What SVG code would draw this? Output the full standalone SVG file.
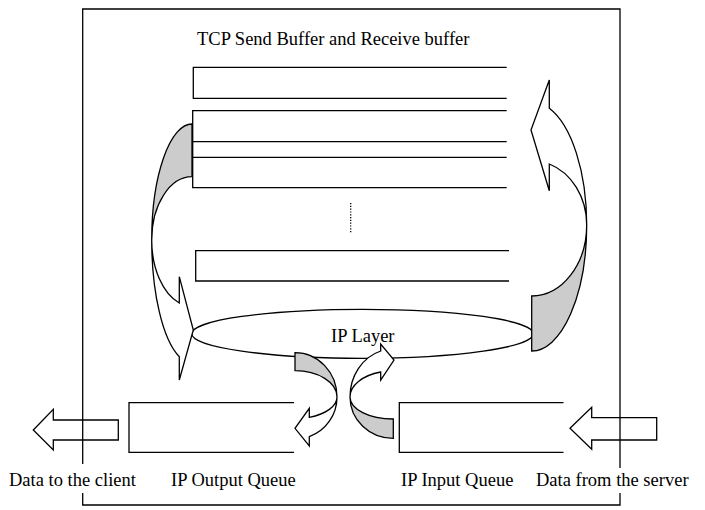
<svg xmlns="http://www.w3.org/2000/svg" width="705" height="510" viewBox="0 0 705 510">
<style>
.ln{fill:none;stroke:#000;stroke-width:1.3}
.wh{fill:#fff;stroke:#000;stroke-width:1.3;stroke-linejoin:miter}
.gr{fill:#cccccc;stroke:#000;stroke-width:1.3}
.t{font-family:"Liberation Serif","Times New Roman",serif;font-size:18.5px;fill:#000}
</style>
<rect width="705" height="510" fill="#fff"/>
<g id="buffers">
<text class="t" x="197" y="45">TCP Send Buffer and Receive buffer</text>
<path class="ln" d="M506.7,67.3 H193.3 V98.3 H506.7"/>
<path class="ln" d="M506.7,110.7 H192.7 V141.7 H506.7"/>
<path class="ln" d="M506.7,157.3 H192.7 V187.7 H506.7 M192.7,141.7 V157.3"/>
<path class="ln" d="M350.7,203 V233" stroke-dasharray="1.2,1.6"/>
<path class="ln" d="M509,250.7 H195.7 V281 H509"/>
</g>
<g id="ip-layer">
<ellipse class="wh" cx="362.5" cy="333.8" rx="170.8" ry="24.5"/>
<text class="t" x="331" y="341.7">IP Layer</text>
</g>
<g id="output-queue">
<path class="ln" d="M294,402.7 H129 V452.3 H294"/>
<text class="t" x="171" y="486">IP Output Queue</text>
</g>
<g id="input-queue">
<path class="ln" d="M563.5,402.7 H399.3 V452.3 H563.5"/>
<text class="t" x="401" y="486">IP Input Queue</text>
</g>
<g id="client">
<text class="t" x="9" y="486">Data to the client</text>
</g>
<g id="server">
<text class="t" x="536" y="486">Data from the server</text>
</g>
<g id="connectors">
<path class="gr" d="M192,124 A40.3 116 0 0 0 151.7,240 A40.3 63.3 0 0 1 192,176.7 Z"/>
<path class="wh" d="M151.7,240 A40.3 123 0 0 0 179.3,356.7 L179.3,380 L193.3,330 L179.3,276.7 L179.3,303 A40.3 66.5 0 0 1 151.7,240 Z"/>
<path class="wh" d="M549.3,108.3 A55 123.2 0 0 1 586.7,225 A55 64.4 0 0 0 549.3,164 L549.3,190.7 L531,130 L549.3,80 Z"/>
<path class="gr" d="M586.7,225 A55 126 0 0 1 531.7,351 L531.7,296 A55 71 0 0 0 586.7,225 Z"/>
<path class="gr" d="M295,352.7 A42 44.3 0 0 1 337,397 A42 26.3 0 0 0 295,370.7 Z"/>
<path class="wh" d="M337,397 A42 42.2 0 0 1 309.3,436.7 L309.3,446 L295,428.3 L309.3,408.3 L309.3,417.3 A42 21.6 0 0 0 337,397 Z"/>
<path class="gr" d="M393.3,438.3 A43.3 41.3 0 0 1 350,397 A43.3 22 0 0 0 393.3,419 Z"/>
<path class="wh" d="M350,397 A43.3 48 0 0 1 380.7,351 L380.7,344 L394,360 L380.7,380 L380.7,372 A43.3 26 0 0 0 350,397 Z"/>
<path class="wh" d="M33.3,430 L53.3,409.3 L53.3,420 L118.3,420 L118.3,440 L53.3,440 L53.3,450 Z"/>
<path class="wh" d="M570,428.3 L591.7,407.3 L591.7,417.7 L656.7,417.7 L656.7,440 L591.7,440 L591.7,449.3 Z"/>
</g>
<g id="boundary">
<path class="ln" d="M82.7,464 V9 H620 V468"/>
<path class="ln" d="M82.7,493 V505 H620 V493"/>
</g>
</svg>
